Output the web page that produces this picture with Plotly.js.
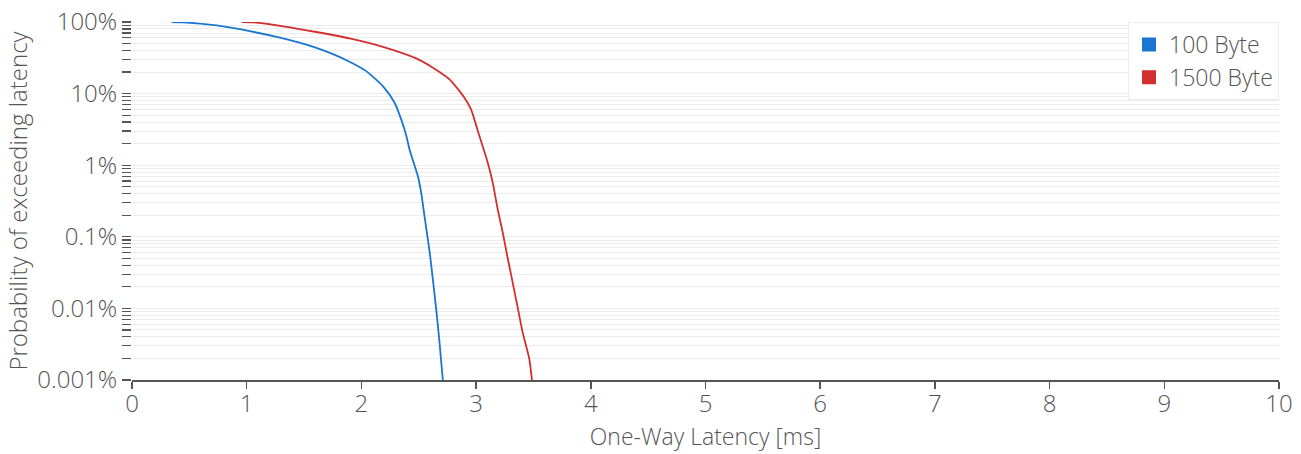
<!DOCTYPE html>
<html><head><meta charset="utf-8">
<script src="https://cdn.plot.ly/plotly-3.0.1.min.js"></script>
<style>html,body{margin:0;padding:0;background:#fff;}#chart{width:1301px;height:454px;}</style>
</head><body><div id="chart"></div>
<script>
const seriesNames = ["100 Byte", "1500 Byte"];
const seriesColors = ["#1976d2", "#d32f2f"];
const latency100 = [0.346, 0.447, 0.737, 1.027, 1.317, 1.607, 1.752, 1.897, 2.042, 2.187, 2.289, 2.347, 2.391, 2.419, 2.492, 2.521, 2.550, 2.579, 2.597, 2.652, 2.681, 2.710];
const prob100 = [100, 99, 89.4, 74.4, 58.9, 43.6, 35.6, 27.9, 20.6, 12.7, 7.46, 4.37, 2.6, 1.67, 0.707, 0.415, 0.195, 0.0927, 0.058, 0.0098, 0.00336, 0.001];
const latency1500 = [0.956, 1.057, 1.318, 1.607, 1.897, 2.187, 2.478, 2.623, 2.768, 2.898, 2.956, 3.029, 3.101, 3.145, 3.188, 3.232, 3.268, 3.348, 3.406, 3.464, 3.487];
const prob1500 = [100, 99, 87, 72.5, 59, 45, 31, 23.0, 15.8, 8.77, 6.03, 2.55, 1.09, 0.572, 0.243, 0.115, 0.058, 0.0135, 0.00462, 0.00196, 0.001];
const decadeLabels = ["0.001%", "0.01%", "0.1%", "1%", "10%", "100%"];
const decadeValues = [0.001, 0.01, 0.1, 1, 10, 100];

const tickvals = [], ticktext = [];
decadeValues.forEach((d, i) => {
  tickvals.push(d); ticktext.push(decadeLabels[i]);
  if (i < decadeValues.length - 1) {
    for (let m = 2; m <= 9; m++) { tickvals.push(d * m); ticktext.push(""); }
  }
});

const fontFam = "'Open Sans', sans-serif";
const txt = "#555";
const traces = [
  {x: latency100, y: prob100, mode: "lines", line: {color: seriesColors[0], width: 1.8, shape: "spline", smoothing: 0.6}, showlegend: false},
  {x: latency1500, y: prob1500, mode: "lines", line: {color: seriesColors[1], width: 1.8, shape: "spline", smoothing: 0.6}, showlegend: false},
  {x: [null], y: [null], mode: "markers", name: seriesNames[0], marker: {symbol: "square", size: 15, color: seriesColors[0], line: {color: seriesColors[0], width: 2}}},
  {x: [null], y: [null], mode: "markers", name: seriesNames[1], marker: {symbol: "square", size: 15, color: seriesColors[1], line: {color: seriesColors[1], width: 2}}}
];

const layout = {
  width: 1301, height: 454,
  margin: {l: 132, r: 22, t: 22, b: 74},
  paper_bgcolor: "#fff", plot_bgcolor: "#fff",
  font: {family: fontFam, color: txt, size: 20, weight: 300},
  xaxis: {
    range: [0, 10], dtick: 1, tick0: 0,
    showgrid: false, zeroline: false,
    showline: true, linecolor: "#555", linewidth: 1.5,
    ticks: "outside", ticklen: 7, tickcolor: "#555", tickwidth: 1.5,
    ticklabelstandoff: -5,
    tickfont: {size: 24, color: txt, family: fontFam, weight: 300},
    title: {text: "One-Way Latency [ms]", font: {size: 23, color: txt, family: fontFam, weight: 300}, standoff: 10}
  },
  yaxis: {
    type: "log", range: [-3, 2],
    tickmode: "array", tickvals: tickvals, ticktext: ticktext,
    showgrid: true, gridcolor: "#ececec", gridwidth: 1,
    zeroline: false, showline: false,
    ticks: "outside", ticklen: 9, tickcolor: "#555", tickwidth: 1.2,
    tickfont: {size: 24, color: txt, family: fontFam, weight: 300},
    title: {text: "Probability of exceeding latency", font: {size: 24, color: txt, family: fontFam, weight: 300}, standoff: 2}
  },
  legend: {
    x: 1, xanchor: "right", y: 1, yanchor: "top",
    bgcolor: "#fff", bordercolor: "#ececec", borderwidth: 1,
    font: {size: 23, color: txt, family: fontFam, weight: 300},
    itemsizing: "constant", tracegroupgap: 2
  },
  showlegend: true
};
Plotly.newPlot("chart", traces, layout, {staticPlot: true, displayModeBar: false});
</script></body></html>
